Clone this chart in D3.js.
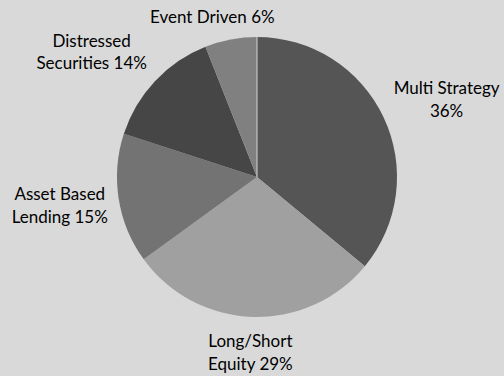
<!DOCTYPE html>
<html>
<head>
<meta charset="utf-8">
<script src="https://cdn.jsdelivr.net/npm/d3@7"></script>
<style>
  html, body { margin: 0; padding: 0; background: #d9d9d9; }
  svg { display: block; }
</style>
</head>
<body>
<svg id="canvas" width="504" height="376"></svg>
<script>
// data, clockwise from 12 o'clock
let categories = ["Multi Strategy", "Long/Short Equity", "Asset Based Lending", "Distressed Securities", "Event Driven"];
let values = [36, 29, 15, 14, 6];
let wordsOnFirstLine = [2, 1, 2, 1, 0];   // 0 = keep on one line
let colors = ["#555555", "#a0a0a0", "#737373", "#464646", "#808080"];

let width = 504;
let height = 376;
let cx = 257;
let cy = 177;
let radius = 140;
let lineHeight = 22.5;
let capHeight = 12;
let labelGap = 11;
let extraDrop = {"Long/Short Equity": 2};

let canvas = d3.select('#canvas');

let items = categories.map((name, i) => ({name: name, value: values[i], wrap: wordsOnFirstLine[i], color: colors[i]}));

let pie = d3.pie()
  .sort(null)
  .value(d => d.value);

let arc = d3.arc()
  .innerRadius(0)
  .outerRadius(radius);

let arcs = pie(items);

let g = canvas.append('g')
  .attr('transform', `translate(${cx},${cy})`);

g.selectAll('path')
  .data(arcs)
  .enter()
  .append('path')
  .attr('d', arc)
  .attr('fill', d => d.data.color);

// thin light seam where the first slice starts
let a0 = arcs[0].startAngle;
g.append('line')
  .attr('x1', 0).attr('y1', 0)
  .attr('x2', Math.sin(a0) * radius).attr('y2', -Math.cos(a0) * radius)
  .attr('stroke', '#d4d4d4')
  .attr('stroke-width', 1);

let labelLines = (d) => {
  let words = d.data.name.split(' ');
  let pct = d.data.value + '%';
  if (d.data.wrap === 0) return [words.join(' ') + ' ' + pct];
  let first = words.slice(0, d.data.wrap).join(' ');
  let rest = words.slice(d.data.wrap).join(' ');
  return [first, rest ? rest + ' ' + pct : pct];
};

let clamp = (v) => Math.max(-1, Math.min(1, v));

let labels = g.selectAll('text.label')
  .data(arcs)
  .enter()
  .append('text')
  .attr('class', 'label')
  .attr('text-anchor', 'middle')
  .attr('font-family', 'Lato, "Open Sans", sans-serif')
  .attr('font-size', 17)
  .attr('fill', '#000');

labels.each(function(d) {
  let t = d3.select(this);
  let lines = labelLines(d);
  lines.forEach((line) => {
    t.append('tspan').text(line);
  });
  let w = d3.max(t.selectAll('tspan').nodes(), n => n.getComputedTextLength());
  let h = lines.length * lineHeight;
  let mid = (d.startAngle + d.endAngle) / 2;
  let s = Math.sin(mid);
  let c = -Math.cos(mid);
  let px = s * (radius + labelGap);
  let py = c * (radius + labelGap);
  let lx = px + clamp(s * 1.4) * w / 2;
  let ly = py + clamp(c * 1.4) * h / 2 + (extraDrop[d.data.name] || 0);
  t.selectAll('tspan')
    .attr('x', lx)
    .attr('y', (_, i) => ly - h / 2 + i * lineHeight + lineHeight / 2 + capHeight / 2);
});
</script>
</body>
</html>
